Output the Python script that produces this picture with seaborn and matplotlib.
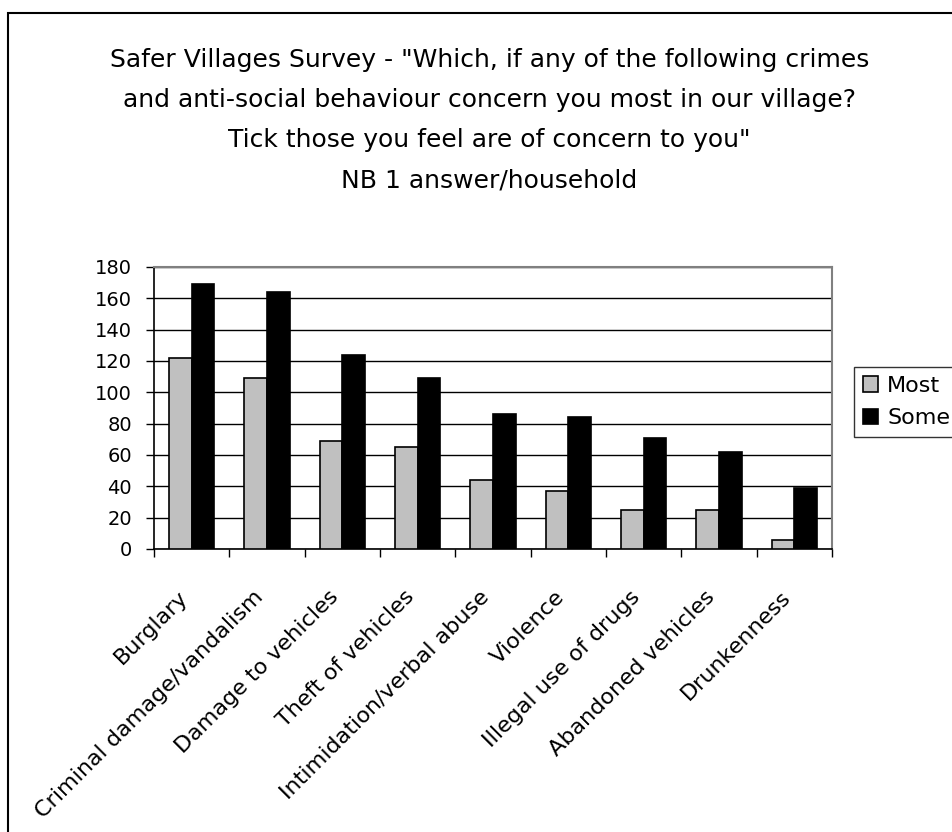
import matplotlib
matplotlib.use("Agg")
import matplotlib.pyplot as plt
import matplotlib.transforms as mtransforms
import seaborn as sns
import pandas as pd
from matplotlib.patches import Rectangle, Patch

categories = ["Burglary", "Criminal damage/vandalism", "Damage to vehicles",
              "Theft of vehicles", "Intimidation/verbal abuse", "Violence",
              "Illegal use of drugs", "Abandoned vehicles", "Drunkenness"]
most = [122, 109, 69, 65, 44, 37, 25, 25, 6]
some = [169, 164, 124, 109, 86, 84, 71, 62, 39]
series = ["Most", "Some"]
yticks = [0, 20, 40, 60, 80, 100, 120, 140, 160, 180]
title_lines = ['Safer Villages Survey - "Which, if any of the following crimes',
               'and anti-social behaviour concern you most in our village?',
               'Tick those you feel are of concern to you"',
               'NB 1 answer/household']

df = pd.DataFrame({
    "category": categories * 2,
    "series": ["Most"] * len(categories) + ["Some"] * len(categories),
    "value": most + some,
})

sns.set_theme(style="white")
plt.rcParams['font.family'] = ['DejaVu Sans']

W, H = 953, 832
fig = plt.figure(figsize=(W / 100, H / 100), dpi=100)
ax = fig.add_axes([154 / W, 1 - 549 / H, (832 - 154) / W, (549 - 267) / H])

palette = {"Most": "#C0C0C0", "Some": "#000000"}
sns.barplot(data=df, x="category", y="value", hue="series", hue_order=series,
            palette=palette, width=0.6, edgecolor="black", linewidth=1.2,
            saturation=1, ax=ax, legend=False, zorder=3)

ax.set_ylim(0, 180)
ax.set_xlim(-0.5, len(categories) - 0.5)
ax.set_yticks(yticks)
ax.set_yticklabels([str(v) for v in yticks], fontsize=14, color="black")
ax.yaxis.grid(True, color="black", linewidth=1.0, zorder=0)
ax.xaxis.grid(False)
ax.set_axisbelow(True)
ax.set_xlabel("")
ax.set_ylabel("")

ax.tick_params(axis="y", which="major", left=True, length=5.8, width=1, color="black", pad=10)
ax.set_xticks(range(len(categories)))
ax.set_xticklabels(categories, rotation=45, ha="right", rotation_mode="anchor",
                   fontsize=16, color="black")
ax.tick_params(axis="x", which="major", bottom=False, length=0, pad=27)
ax.set_xticks([i - 0.5 for i in range(len(categories) + 1)], minor=True)
ax.tick_params(axis="x", which="minor", bottom=True, length=5.8, width=1, color="black")

shift = mtransforms.ScaledTranslation(-14 / 100, 0, fig.dpi_scale_trans)
for lab in ax.get_xticklabels():
    lab.set_transform(lab.get_transform() + shift)

for s in ["left", "bottom"]:
    ax.spines[s].set_color("black")
    ax.spines[s].set_linewidth(1.2)
for s in ["top", "right"]:
    ax.spines[s].set_color("#808080")
    ax.spines[s].set_linewidth(1.5)

handles = [Patch(facecolor=palette[s], edgecolor="black", linewidth=1.2, label=s) for s in series]
leg = fig.legend(handles=handles, loc="upper left",
                 bbox_to_anchor=(854 / W, 1 - 367 / H),
                 frameon=True, fancybox=False, edgecolor="black",
                 prop={"size": 16},
                 handlelength=0.7, handleheight=0.7, handletextpad=0.4,
                 labelspacing=0.55, borderpad=0.4, borderaxespad=0)
leg.get_frame().set_linewidth(1.0)
for t in leg.get_texts():
    t.set_color("black")

for i, line in enumerate(title_lines):
    fig.text(489.5 / W, 1 - (67 + 40 * i) / H, line, ha="center", va="baseline",
             fontsize=18, color="black")

fig.patches.append(Rectangle((8 / W, -0.1), 1.2, (1 - 13 / H) + 0.1,
                             transform=fig.transFigure, fill=False,
                             edgecolor="black", linewidth=1.5))

fig.savefig("out.png", dpi=100, facecolor="white")
